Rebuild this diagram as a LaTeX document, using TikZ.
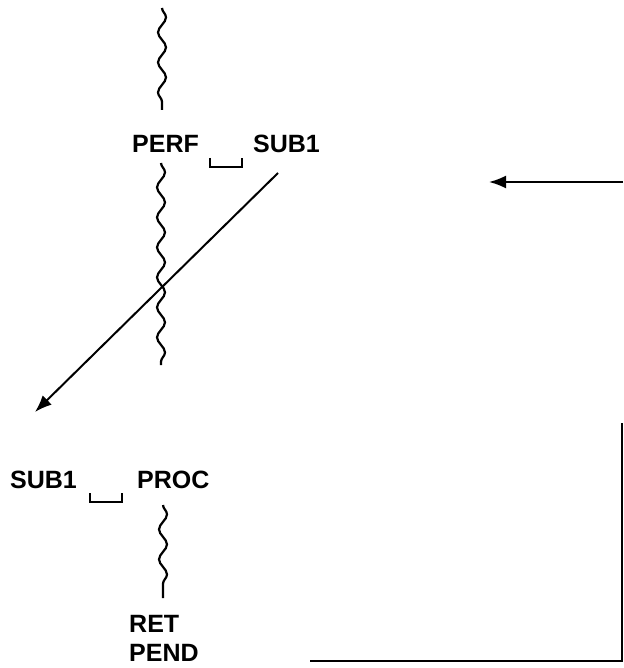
\documentclass[tikz,border=0pt]{standalone}
\usepackage{fontspec}
\setmainfont{Liberation Sans}
\usetikzlibrary{decorations.pathmorphing,arrows.meta}
\begin{document}
\begin{tikzpicture}[x=1pt,y=-1pt,
  lbl/.style={anchor=base west,inner sep=0pt,font=\fontsize{25}{25}\selectfont\bfseries},
  wave/.style={line width=2.2pt,decorate,decoration={snake,segment length=30pt,amplitude=4pt}},
  ln/.style={line width=2.2pt},
  arr/.style={line width=2pt,-{Latex[length=17pt,width=13pt]}},
  blank/.style={line width=2pt}]
\useasboundingbox (0,0) rectangle (623,668);
% labels
\node[lbl] (perf) at (132,153) {PERF};
\node[lbl] (sub1a) at (253,153) {SUB1};
\node[lbl] (sub1b) at (10,488) {SUB1};
\node[lbl] (proc) at (137,488) {PROC};
\node[lbl] (ret) at (129,632) {RET};
\node[lbl] (pend) at (129,661) {PEND};
% wavy lines
\coordinate (w1a) at (162,8);
\coordinate (w1b) at (162,110);
\coordinate (w2a) at (161,163);
\coordinate (w2b) at (161,365);
\coordinate (w3a) at (163,505);
\coordinate (w3b) at (163,598);
\draw[wave] (w1a) -- (w1b);
\draw[wave] (w2a) -- (w2b);
\draw[wave] (w3a) -- (w3b);
% blank symbols
\draw[blank] (210,158) -- (210,167) -- (242,167) -- (242,158);
\draw[blank] (90,493) -- (90,502) -- (122,502) -- (122,493);
% diagonal arrow
\coordinate (d1) at (278,173);
\coordinate (d2) at (35,412);
\draw[arr] (d1) -- (d2);
% return path
\coordinate (r1) at (623,182);
\coordinate (r2) at (489,182);
\draw[arr] (r1) -- (r2);
\coordinate (b1) at (310,661);
\coordinate (b2) at (622,423);
\draw[ln] (b1) -| (b2);
\end{tikzpicture}
\end{document}
